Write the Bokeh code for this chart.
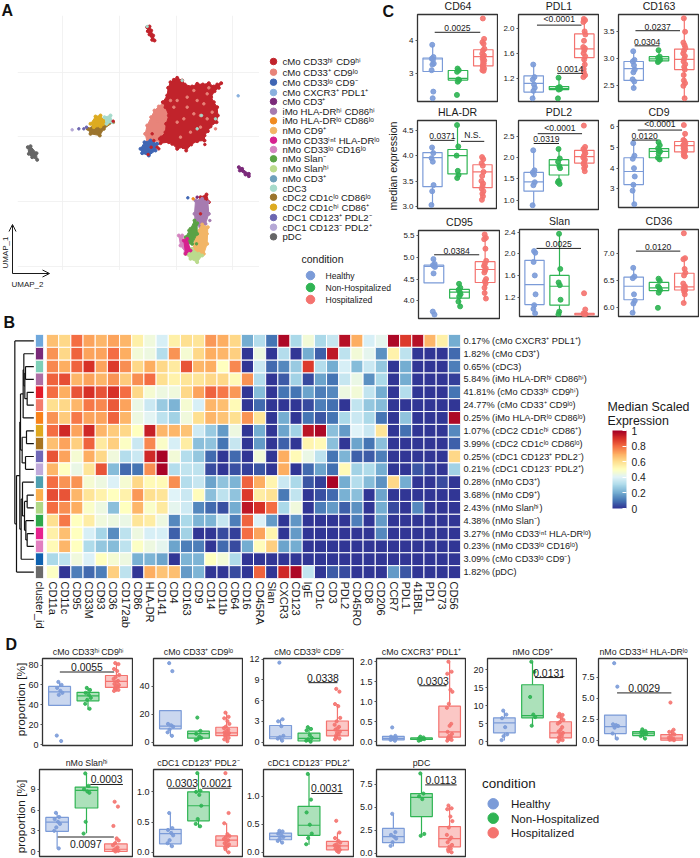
from math import pi
from bokeh.embed import file_html
from bokeh.resources import INLINE
from bokeh.plotting import figure
from bokeh.models import (FactorRange, Range1d, LinearColorMapper, ColorBar, FixedTicker,
                          NumeralTickFormatter, Arrow, OpenHead)
from bokeh.core.properties import value

FONT = "Liberation Sans"
INK = "#1a1a1a"
GROUP_COLORS = ["#7b9bd8", "#2fb453", "#f4736f"]
CONDITIONS = ["Healthy", "Non-Hospitalized", "Hospitalized"]
JIT = [-0.03, 0.05, -0.06, 0.02, 0.07, -0.02, -0.07, 0.04, 0.0, -0.05, 0.06, -0.01, 0.03, -0.04]

# ---------- A: UMAP ----------
CLUSTER_NAMES = ["cMo CD33ʰⁱ CD9ʰⁱ", "cMo CD33⁺ CD9ˡᵒ", "cMo CD33ˡᵒ CD9⁻", "cMo CXCR3⁺ PDL1⁺", "cMo CD3⁺",
                 "iMo HLA-DRʰⁱ CD86ʰⁱ", "iMo HLA-DRˡᵒ CD86ˡᵒ", "nMo CD9⁺", "nMo CD33ⁱⁿᵗ HLA-DRˡᵒ",
                 "nMo CD33ˡᵒ CD16ˡᵒ", "nMo Slan⁻", "nMo Slanʰⁱ", "nMo CD3⁺", "cDC3", "cDC2 CD1cˡᵒ CD86ˡᵒ",
                 "cDC2 CD1cʰⁱ CD86⁺", "cDC1 CD123⁺ PDL2⁻", "cDC1 CD123⁻ PDL2⁺", "pDC"]
CLUSTER_COLORS = ["#c1232b", "#e8847a", "#3f66b4", "#88b0de", "#7b2a7a", "#a67bb0", "#f08a20", "#f2b566",
                  "#d7218f", "#d583c0", "#5aa245", "#bbdb8d", "#6ea0bb", "#a6dacb", "#9b742d", "#ddab20",
                  "#6c66b0", "#b5a8d6", "#666666"]
LEGEND_Y = [61, 71.7, 81.7, 92, 101, 110.7, 120.3, 130, 139.7, 149, 158.3, 168.3, 178.3, 187.7, 196.7, 206.7,
            217, 226.7, 236.3]

UMAP_GRID_X = [186, 358, 527, 695]
UMAP_GRID_Y = [215, 407, 603, 797]
UMAP_ISLANDS = [
    (1, [462, 475, 490, 500, 508, 500, 495, 478, 455, 440, 434, 440, 452], [330, 318, 305, 320, 345, 370, 400, 420, 425, 425, 400, 375, 350]),
    (0, [503, 510, 520, 530, 545, 553, 575, 590, 607, 625, 640, 650, 662, 655, 642, 632, 640, 650, 652, 648, 630, 622, 612, 612, 590, 572, 557, 548, 530, 515, 505, 480, 478, 495, 497, 505, 495, 487, 500],
        [262, 245, 238, 232, 240, 252, 258, 250, 252, 248, 258, 252, 248, 262, 272, 290, 305, 320, 345, 365, 378, 392, 405, 420, 422, 432, 450, 440, 445, 430, 425, 428, 415, 395, 370, 345, 320, 305, 285]),
    (2, [420, 432, 450, 470, 465, 445, 425], [445, 425, 420, 430, 450, 465, 458]),
    (0, [440, 447, 452, 458, 462, 455, 447, 442], [80, 78, 90, 105, 120, 118, 102, 92]),
    (14, [262, 280, 300, 320, 338, 310, 298, 270], [385, 375, 375, 368, 365, 385, 405, 400]),
    (15, [270, 285, 300, 310, 320, 300, 280], [370, 348, 345, 360, 370, 378, 380]),
    (13, [312, 330, 335, 318], [350, 345, 365, 370]),
    (18, [82, 90, 108, 110, 95, 85], [440, 437, 458, 478, 470, 460]),
    (4, [715, 725, 745, 745, 735, 718], [500, 505, 520, 527, 522, 510]),
    (0, [600, 618, 625, 605], [590, 582, 605, 605]),
    (5, [585, 605, 622, 625, 615, 600, 585, 582], [600, 595, 605, 640, 670, 680, 672, 640]),
    (7, [605, 622, 620, 610, 590, 578, 585], [672, 680, 730, 760, 765, 745, 700]),
    (10, [582, 590, 590, 575, 560, 555, 570], [660, 668, 700, 730, 730, 710, 685]),
    (11, [560, 575, 595, 605, 590, 570, 555], [735, 745, 760, 765, 785, 775, 760]),
    (9, [535, 545, 550, 555, 540], [705, 705, 730, 755, 735]),
    (8, [550, 560, 570, 555], [720, 715, 750, 760]),
]
UMAP_SPECKS_X = [530, 560, 580, 600, 600, 620, 590, 530, 560, 620, 550, 520, 610, 645, 603, 545, 590,
                 613, 475, 443, 482, 460, 215, 235, 250, 258, 338, 578, 562, 590, 713, 440, 645, 470,
                 570, 540, 510, 635, 625, 580, 470, 452, 455, 600, 628, 620, 565, 588]
UMAP_SPECKS_Y = [300, 320, 340, 345, 380, 355, 300, 365, 290, 280, 355, 320, 310, 355, 345, 240, 385,
                 432, 445, 462, 410, 420, 388, 385, 385, 380, 362, 595, 592, 590, 286, 78, 385, 440,
                 395, 410, 300, 335, 262, 270, 362, 440, 400, 640, 660, 700, 690, 730]
UMAP_SPECKS_C = [1, 1, 1, 1, 1, 1, 1, 1, 1, 1, 1, 1, 1, 13, 13, 13, 13,
                 0, 0, 0, 0, 0, 17, 16, 16, 16, 0, 6, 2, 4, 3, 13, 1, 0,
                 1, 1, 1, 1, 1, 1, 1, 0, 0, 0, 5, 7, 10, 10]

# ---------- B: heatmap ----------
MARKERS = ["CD11a", "CD11c", "CD95", "CD33M", "CD93", "CD36", "CD172ab", "CD86", "HLA-DR", "CD141", "CD4", "CD163",
           "CD9", "CD14", "CD11b", "CD64", "CD16", "CD45RA", "Slan", "CXCR3", "CD123", "IgE", "CD1c", "CD3", "PDL2",
           "CD45RO", "CD8", "CD206", "CCR7", "PDL1", "41BBL", "PD1", "CD73", "CD56"]
ROW_LABELS = ["0.17% (cMo CXCR3⁺ PDL1⁺)", "1.82% (cMo CD3⁺)", "0.65% (cDC3)", "5.84% (iMo HLA-DRʰⁱ CD86ʰⁱ)",
              "41.81% (cMo CD33ʰⁱ CD9ʰⁱ)", "24.77% (cMo CD33⁺ CD9ˡᵒ)", "0.25% (iMo HLA-DRˡᵒ CD86ˡᵒ)",
              "1.07% (cDC2 CD1cʰⁱ CD86⁺)", "3.99% (cDC2 CD1cˡᵒ CD86ˡᵒ)", "0.25% (cDC1 CD123⁺ PDL2⁻)",
              "0.21% (cDC1 CD123⁻ PDL2⁺)", "0.28% (nMo CD3⁺)", "3.68% (nMo CD9⁺)", "2.43% (nMo Slanʰⁱ)",
              "4.38% (nMo Slan⁻)", "3.27% (nMo CD33ⁱⁿᵗ HLA-DRˡᵒ)", "0.23% (nMo CD33ˡᵒ CD16ˡᵒ)",
              "3.09% (cMo CD33ˡᵒ CD9⁻)", "1.82% (pDC)"]
ROW_COLORS = ["#6fa8dc", "#7b2a7a", "#7fd0b8", "#ae6ea4", "#e31b2a", "#f47c6c", "#f8821a", "#e0a820", "#a87420",
              "#7068b8", "#c0aadb", "#4f9fb0", "#fbb04f", "#b0d885", "#2fa84a", "#e7248f", "#e27fc0", "#0f62b0",
              "#6a6a6a"]
HEAT = [
    [.67, .62, .8, .72, .68, .72, .68, .55, .45, .38, .55, .6, .58, .73, .7, .62, .2, .32, .1, .98, .3, .46, .3, .35, .97, .7, .38, .42, .98, .88, .97, .68, .55, .2],
    [.74, .62, .82, .72, .72, .8, .7, .46, .44, .32, .74, .47, .62, .7, .68, .63, 0, .44, 0, .32, 0, .2, .07, .95, .33, .46, .42, .15, .54, .33, 0, 0, 0, .08],
    [.76, .7, .82, .9, .72, .88, .75, .62, .7, .62, .57, .84, .68, .7, .5, .76, 0, .36, .08, .13, .27, .88, .32, .2, .38, .23, .36, .26, 0, .2, 0, 0, 0, .12],
    [.82, .85, .68, .72, .68, .74, .64, .75, .8, .6, .54, .58, .58, .62, .62, .52, .74, .32, 0, .06, .28, .03, .18, .1, .35, .43, .15, .3, 0, .2, 0, 0, 0, .02],
    [.8, .7, .84, .9, .84, .9, .8, .62, .47, .44, .45, .62, .72, .82, .78, .73, 0, .23, 0, .1, .1, .18, .12, .13, .44, .46, .34, .2, 0, .32, 0, 0, 0, .1],
    [.6, .62, .68, .78, .76, .83, .72, .43, .36, .27, .22, .47, .38, .68, .67, .52, 0, .08, 0, 0, 0, .03, .12, .09, 0, .34, .26, .23, 0, 0, 0, 0, 0, 0],
    [.74, .64, .78, .72, .72, .82, .68, .44, .41, .33, .28, .45, .6, .68, .66, .6, .74, .58, 0, .2, 0, .1, .05, .1, .3, .36, .3, .1, 0, .25, 0, 0, 0, .98],
    [.8, .92, .72, .92, .68, .64, .62, .5, .93, .68, .68, .66, .37, .27, .17, .44, 0, .2, 0, .18, .28, .96, .98, .24, .17, .4, .36, .58, 0, .09, 0, 0, 0, .13],
    [.67, .72, .63, .82, .57, .63, .49, .36, .76, .48, .38, .56, .24, .25, .1, .35, 0, .17, 0, .07, 0, .53, .52, .24, 0, .18, .1, .24, 0, 0, 0, 0, 0, .07],
    [.84, .72, .47, .7, .62, .45, .32, .36, .92, .99, .46, .32, .26, .08, 0, .08, 0, .46, 0, .7, .52, .43, .33, .1, .22, .07, .06, .12, 0, 0, 0, 0, 0, .62],
    [.68, .5, .43, .58, .84, .23, .08, .1, .75, .99, .32, .34, .33, .03, 0, .04, .02, .05, 0, .7, 0, .08, .18, .09, .52, .28, .31, .2, 0, 0, .05, .02, 0, .28],
    [.8, .74, .74, .47, .44, .39, .47, .62, .52, .52, .75, .32, .35, .18, .25, .22, .82, .7, .53, .36, .3, .05, .02, .99, .2, .32, .23, .15, .62, .2, 0, 0, .03, 0],
    [.85, .84, .68, .58, .54, .5, .54, .73, .6, .58, .4, .36, .51, .24, .33, .25, .88, .56, .59, .11, .34, 0, .04, .08, .21, .24, 0, .18, 0, 0, 0, 0, 0, 0],
    [.8, .75, .7, .48, .44, .24, .5, .68, .48, .57, .42, .37, .13, .08, .04, .2, .95, .9, .8, .3, .45, 0, .12, .17, .07, .15, 0, .2, .03, 0, .13, 0, 0, 0],
    [.6, .78, .5, .56, .45, .44, .43, .58, .56, .44, .13, .3, .22, .22, .35, .12, .82, .39, .17, 0, .16, 0, 0, 0, 0, .12, 0, .17, 0, 0, 0, 0, 0, 0],
    [.55, .67, .5, .38, .29, .14, .33, .44, .38, .38, .07, .28, 0, 0, .03, .02, .8, .72, .53, 0, .17, 0, 0, 0, 0, 0, 0, .13, 0, 0, 0, 0, 0, 0],
    [.52, .68, .5, .31, .26, .23, .33, .49, .44, .42, .18, .12, .12, 0, .08, .03, .2, .51, .63, .18, .2, 0, 0, 0, 0, 0, 0, 0, 0, 0, 0, 0, 0, 0],
    [.3, .33, .45, .39, .5, .47, .44, .21, .22, .18, 0, .22, .22, .5, .46, .31, 0, 0, 0, 0, 0, 0, 0, 0, 0, 0, 0, 0, 0, 0, 0, 0, 0, 0],
    [.49, 0, .12, .08, .12, .63, .33, 0, .7, .66, .67, .17, .22, 0, 0, .03, 0, .82, 0, .92, .98, .34, 0, .06, .03, 0, 0, 0, .17, .05, 0, 0, 0, 0],
]
RDYLBU = ["#313695", "#4575b4", "#74add1", "#abd9e9", "#e0f3f8", "#ffffbf", "#fee090", "#fdae61", "#f46d43",
          "#d73027", "#a50026"]
CBAR_TICKS = [0, 0.2, 0.4, 0.6, 0.8, 1]
# dendrogram merges: (child, child, height); children are leaf rows (0-18) or "m<k>" earlier merges
DENDRO = [(2, 3, 75), (4, 5, 80), ("m0", "m1", 73), (1, "m2", 70), ("m3", 6, 68), (7, 8, 78), (9, 10, 75),
          ("m5", "m6", 65), ("m4", "m7", 60), (12, 13, 80), (15, 16, 80), (14, "m10", 76), ("m9", "m11", 72),
          (11, "m12", 66), ("m13", 17, 62), ("m8", "m14", 58), ("m15", 18, 48), (0, "m16", 43)]
DENDRO_LEAF = 100

# ---------- C: median expression ----------
CD64_BOX = [(3.06, 3.06, 3.44, 3.47, 3.87), (2.74, 2.80, 2.85, 3.09, 3.17), (3.07, 3.23, 3.51, 3.72, 4.05)]
CD64_PTS = [[3.87, 3.5, 3.45, 3.42, 3.3, 3.27, 3.1, 2.45, 2.25], [3.15, 3.1, 3.05, 2.82, 2.8, 2.75, 2.35],
            [4.67, 4.05, 3.95, 3.9, 3.75, 3.7, 3.6, 3.55, 3.5, 3.45, 3.4, 3.35, 3.3, 3.25, 3.2, 3.15, 3.1, 3.08]]
CD64_BR = [(1.08, 2.88, 4.25, "0.0025")]
PDL1_BOX = [(0.88, 0.98, 1.12, 1.24, 1.42), (1.02, 1.02, 1.04, 1.07, 1.21), (1.22, 1.53, 1.67, 1.91, 2.16)]
PDL1_PTS = [[1.42, 1.22, 1.18, 1.1, 1.05, 1.0, 0.88], [1.21, 1.06, 1.05, 1.04, 1.03, 1.02, 0.88],
            [2.15, 2.13, 2.1, 1.95, 1.9, 1.8, 1.7, 1.68, 1.65, 1.6, 1.55, 1.5, 1.42, 1.35, 1.3, 1.25, 1.22]]
PDL1_BR = [(1.13, 2.89, 2.05, "<0.0001"), (1.93, 2.95, 1.28, "0.0014")]
CD163_BOX = [(2.46, 2.60, 2.82, 2.95, 3.14), (2.93, 2.96, 3.0, 3.04, 3.16), (2.27, 2.80, 2.99, 3.18, 3.76)]
CD163_PTS = [[3.14, 2.98, 2.95, 2.88, 2.8, 2.75, 2.62, 2.58, 2.46], [3.16, 3.04, 3.02, 3.0, 2.98, 2.96, 2.94],
             [3.75, 3.5, 3.3, 3.25, 3.2, 3.15, 3.1, 3.05, 3.0, 2.95, 2.9, 2.85, 2.8, 2.7, 2.6, 2.55, 2.5, 2.27]]
CD163_BR = [(1.07, 2.83, 3.52, "0.0237"), (1.04, 2.02, 3.24, "0.0304")]
HLADR_BOX = [(3.02, 3.39, 3.96, 4.06, 4.17), (3.55, 3.64, 4.0, 4.12, 4.59), (3.12, 3.37, 3.68, 3.82, 3.97)]
HLADR_PTS = [[4.16, 4.05, 3.95, 3.88, 3.42, 3.3, 3.03], [4.6, 4.18, 4.0, 3.7, 3.62, 3.56],
             [3.97, 3.93, 3.85, 3.8, 3.68, 3.6, 3.5, 3.45, 3.4, 3.35, 3.3, 3.25, 3.2, 3.13]]
HLADR_BR = [(0.91, 1.88, 4.30, "0.0371"), (2.14, 3.07, 4.28, "N.S.")]
PDL2_BOX = [(0.87, 1.21, 1.43, 1.65, 2.16), (1.38, 1.59, 1.82, 1.95, 2.2), (1.67, 1.87, 2.02, 2.17, 2.26)]
PDL2_PTS = [[2.17, 1.7, 1.65, 1.6, 1.42, 1.35, 0.88], [2.2, 1.98, 1.9, 1.8, 1.75, 1.45, 1.42, 1.38],
            [2.75, 2.25, 2.2, 2.15, 2.1, 2.05, 2.0, 1.95, 1.9, 1.85, 1.8, 1.75, 1.68]]
PDL2_BR = [(1.16, 2.91, 2.56, "<0.0001"), (1.0, 2.0, 2.33, "0.0319")]
CD9_BOX = [(2.27, 3.21, 3.84, 4.5, 5.2), (4.42, 4.5, 4.81, 4.94, 5.25), (4.56, 4.78, 5.08, 5.28, 5.67)]
CD9_PTS = [[5.2, 4.6, 4.45, 4.0, 3.6, 3.2, 2.92, 2.27], [5.25, 5.1, 4.95, 4.85, 4.8, 4.7, 4.5, 4.42],
           [6.07, 5.65, 5.35, 5.3, 5.2, 5.15, 5.1, 5.05, 5.0, 4.95, 4.9, 4.85, 4.8, 4.7, 4.6, 4.56]]
CD9_BR = [(1.16, 2.91, 5.83, "<0.0001"), (0.93, 1.94, 5.35, "0.0120")]
CD95_BOX = [(4.41, 4.41, 4.79, 4.82, 4.96), (3.87, 4.06, 4.2, 4.26, 4.39), (4.03, 4.42, 4.72, 4.9, 5.53)]
CD95_PTS = [[4.96, 4.85, 4.82, 4.8, 4.78, 4.63, 3.75, 3.68], [4.39, 4.3, 4.25, 4.2, 4.15, 4.1, 3.98, 3.87],
            [5.53, 5.45, 5.42, 5.2, 4.92, 4.85, 4.8, 4.75, 4.7, 4.65, 4.5, 4.45, 4.4, 4.3, 4.18, 4.05]]
CD95_BR = [(1.01, 2.77, 5.06, "0.0384")]
SLAN_BOX = [(0.91, 1.06, 1.43, 1.88, 2.06), (0.87, 1.05, 1.4, 1.6, 2.37), (0.87, 0.87, 0.89, 0.9, 0.9)]
SLAN_PTS = [[2.05, 2.02, 1.85, 1.6, 1.25, 1.05, 0.98, 0.9], [2.37, 1.72, 1.47, 1.42, 1.15, 0.93, 0.88],
            [1.27, 0.97, 0.9, 0.89, 0.88, 0.87]]
SLAN_BR = [(1.08, 2.86, 2.1, "0.0025")]
CD36_BOX = [(5.91, 6.15, 6.4, 6.57, 6.75), (6.28, 6.32, 6.37, 6.47, 6.55), (6.09, 6.33, 6.39, 6.64, 6.93)]
CD36_PTS = [[6.74, 6.58, 6.55, 6.25, 6.13, 6.08, 5.91], [6.54, 6.5, 6.4, 6.37, 6.33, 6.28, 6.0],
            [7.38, 6.92, 6.9, 6.72, 6.65, 6.6, 6.45, 6.4, 6.38, 6.35, 6.33, 6.3, 6.25, 6.09]]
CD36_BR = [(1.09, 2.84, 7.05, "0.0120")]

# ---------- D: proportion ----------
D1_BOX = [(39.5, 39.5, 53, 58.5, 63), (35, 44, 49, 52.5, 56.5), (53, 57.5, 63.5, 69.5, 82)]
D1_PTS = [[63, 60, 57, 54, 52, 50, 9, 3.5], [57, 55, 52, 50, 47, 45, 41, 36],
          [82, 81, 76, 74, 70, 68, 66, 64, 63, 61, 60, 59, 58, 57, 56, 55, 54]]
D1_BR = [(1.01, 2.92, 73, "0.0055")]
D2_BOX = [(4.3, 9.5, 11.4, 22.5, 22.5), (1.5, 2.8, 6, 7.8, 8.3), (0.3, 4.7, 6.6, 10.6, 21.3)]
D2_PTS = [[56.3, 50.6, 13, 12, 11, 9, 7, 4.5], [17.5, 8, 6, 4, 3, 2, 1.5],
          [21, 18, 17, 15, 13, 11, 10, 9, 8, 7, 6.5, 6, 5.5, 5, 4, 3, 2, 0.7]]
D2_BR = []
D3_BOX = [(0.15, 0.48, 0.77, 2.4, 3.3), (0.05, 0.15, 0.53, 1.3, 2.15), (0.4, 0.9, 1.7, 3.05, 5.5)]
D3_PTS = [[11.5, 3.3, 3.0, 2.3, 0.9, 0.7, 0.5, 0.2], [2.15, 1.9, 1.7, 1.0, 0.6, 0.4, 0.2, 0.05],
          [7.7, 7.3, 5.5, 5.2, 3.5, 3.0, 2.5, 2.2, 2, 1.8, 1.5, 1.3, 1.1, 0.9, 0.7, 0.5, 0.4]]
D3_BR = [(1.98, 3.0, 8.6, "0.0338")]
D4_BOX = [(0.05, 0.05, 0.09, 0.14, 0.14), (0.03, 0.06, 0.07, 0.10, 0.12), (0.03, 0.12, 0.25, 0.89, 1.98)]
D4_PTS = [[.36, .15, .13, .1, .09, .07, .05, .03], [.13, .11, .09, .08, .07, .05, .03],
          [2.0, 1.75, 1.7, 1.3, 1.25, .95, .85, .45, .4, .25, .2, .15, .12, .1, .08, .05, .03]]
D4_BR = [(1.92, 2.89, 1.4, "0.0303")]
D5_BOX = [(0.3, 2.4, 5.2, 6.6, 8.6), (4.4, 6.6, 7.2, 15.8, 22.2), (0, 1, 2.4, 5.5, 7.7)]
D5_PTS = [[8.6, 7.5, 6.5, 4.0, 2.0, 1.5, .4], [22.2, 19.4, 12.4, 7.5, 6.8, 4.4],
          [7.7, 7.4, 7, 6.5, 6, 5.4, 5, 4, 3.3, 2.8, 2.4, 2, 1.6, 1.2, .8, .4, 0]]
D5_BR = [(2.09, 3.09, 17.8, "0.0131")]
D6_BOX = [(0.1, 0.8, 1.62, 3.0, 3.0), (0.15, 0.55, 0.83, 1.03, 1.3), (0, 0, 0.25, 0.67, 1.25)]
D6_PTS = [[9.2, 6.4, 1.9, 1.8, 1.7, 1.5, .8, .2], [1.3, 1.1, 1, .9, .8, .7, .5, .2],
          [4.5, 1.25, 1, .9, .7, .5, .3, .2, .1, .05, 0]]
D6_BR = [(1.06, 2.99, 5.65, "0.0029")]
D7_BOX = [(0.43, 2.92, 4.26, 4.93, 5.6), (2.63, 6.3, 8.85, 9.33, 11.3), (0, 0, 0.33, 1.1, 1.9)]
D7_PTS = [[5.6, 5, 4.7, 4.3, 4, 3.5, 3, .45], [11.3, 9.5, 9, 8.7, 8.5, 4.3, 2.6],
          [7.2, 6.5, 3.7, 1.9, 1.6, 1.2, .9, .6, .4, .2, .1, 0]]
D7_BR = [(2.13, 3.24, 9.7, "0.0003"), (1.02, 2.93, 2.1, "0.0097")]
D8_BOX = [(0.09, 0.14, 0.31, 0.38, 0.65), (0.41, 0.52, 0.77, 1.0, 1.31), (0, 0.1, 0.2, 0.27, 0.48)]
D8_PTS = [[.65, .4, .37, .32, .28, .2, .15, .1], [1.31, 1.02, 1.0, .95, .77, .55, .47, .43],
          [1.31, .65, .48, .3, .27, .25, .22, .2, .18, .15, .13, .12, .1, .08, .05, 0]]
D8_BR = [(0.92, 1.92, 1.06, "0.0303"), (2.13, 3.14, 1.06, "0.0021")]
D9_BOX = [(0.17, 0.22, 0.28, 0.34, 0.38), (0.13, 0.3, 0.48, 0.82, 1.4), (0, 0.04, 0.11, 0.19, 0.35)]
D9_PTS = [[.38, .37, .33, .3, .27, .24, .2, .17], [1.4, .94, .71, .49, .33, .25, .14],
          [.56, .35, .25, .2, .17, .14, .12, .1, .08, .06, .04, .02, 0]]
D9_BR = [(2.08, 3.18, 1.05, "0.0031")]
D10_BOX = [(0.72, 1.15, 1.8, 2.7, 4.2), (1.9, 4, 6.1, 6.5, 8.7), (0.1, 0.7, 1.6, 2.9, 5.2)]
D10_PTS = [[4.3, 2.3, 2, 1.8, 1.6, 1.2, .8], [8.7, 6.5, 6.2, 5.9, 2.1, 1.9],
           [5.2, 4.9, 4.8, 4, 3.5, 2.8, 2, 1.7, 1.5, 1.2, .9, .7, .5, .4, .2, .1]]
D10_BR = [(2.13, 3.25, 7.45, "0.0113")]

figs = []


def placed(left, top, right, bottom, ml=0, mt=0, mr=0, mb=0, **kw):
    f = figure(width=right - left + ml + mr, height=bottom - top + mt + mb, toolbar_location=None,
               output_backend="svg", min_border_left=ml, min_border_top=mt, min_border_right=mr,
               min_border_bottom=mb, border_fill_color=None, background_fill_color=None,
               styles={"position": "absolute", "left": f"{left - ml}px", "top": f"{top - mt}px"}, **kw)
    f.outline_line_color = None
    f.grid.visible = False
    figs.append(f)
    return f


def tx(f, x, y, s, size, color=INK, align="left", base="middle", angle=0.0, style="normal", yoff=0):
    f.text([x], [y], text=[s], text_font=value(FONT), text_font_size=value(f"{size}px"), text_color=color,
           text_align=align, text_baseline=base, angle=angle, text_font_style=style, y_offset=yoff)


# ---------- page-wide layer: letters, legends, shared labels ----------
canvas = placed(0, 0, 700, 858, x_range=Range1d(0, 700), y_range=Range1d(858, 0))
canvas.axis.visible = False
for s, x, y in [("A", 1, 10), ("B", 3, 322), ("C", 382, 11), ("D", 5, 644)]:
    tx(canvas, x, y, s, 16, color="#111111", style="bold")

for name, col, y in zip(CLUSTER_NAMES, CLUSTER_COLORS, LEGEND_Y):
    canvas.scatter([273], [y], size=6.5, color=col)
    tx(canvas, 282, y, name, 9.6)
tx(canvas, 301, 258, "condition", 10.5)
for cond, col, y in zip(CONDITIONS, GROUP_COLORS, [275, 287, 299]):
    canvas.scatter([310], [y], size=8.5, color=col)
    tx(canvas, 325, y, cond, 8.6)

canvas.add_layout(Arrow(end=OpenHead(size=7, line_width=1, line_color=INK), x_start=12, y_start=273, x_end=12, y_end=224,
                        line_width=1, line_color=INK))
canvas.add_layout(Arrow(end=OpenHead(size=7, line_width=1, line_color=INK), x_start=12, y_start=273, x_end=49, y_end=273,
                        line_width=1, line_color=INK))
tx(canvas, 4.5, 252, "UMAP_1", 8, align="center", angle=pi / 2)
tx(canvas, 27, 284, "UMAP_2", 8, align="center")

tx(canvas, 392.5, 165.5, "median expression", 10.6, align="center", angle=pi / 2)
tx(canvas, 20, 699, "proportion [%]", 11.8, align="center", angle=pi / 2)
tx(canvas, 20, 816, "proportion [%]", 11.8, align="center", angle=pi / 2)

tx(canvas, 481.5, 783, "condition", 13.4)
for cond, col, y in zip(CONDITIONS, GROUP_COLORS, [803.3, 817.7, 832.3]):
    canvas.scatter([492.7], [y], size=10.5, color=col)
    tx(canvas, 510.5, y, cond, 11.6)

tx(canvas, 607, 406.7, "Median Scaled", 12.4)
tx(canvas, 607, 420, "Expression", 12.4)

# a smooth colour scale from the same stops
smooth = []
for i in range(len(RDYLBU) - 1):
    a = RDYLBU[i]
    b = RDYLBU[i + 1]
    ca = [int(a[k:k + 2], 16) for k in (1, 3, 5)]
    cb = [int(b[k:k + 2], 16) for k in (1, 3, 5)]
    for t in range(12):
        smooth.append("#%02x%02x%02x" % tuple(round(p + (q - p) * t / 12) for p, q in zip(ca, cb)))
smooth.append(RDYLBU[-1])
mapper = LinearColorMapper(palette=smooth, low=0, high=1)
cbar = ColorBar(color_mapper=mapper, location=(612, 350), width=14, height=78, ticker=FixedTicker(ticks=CBAR_TICKS),
                major_tick_line_color="white", major_tick_in=4, major_label_text_font=FONT,
                major_label_text_font_size="10.3px", major_label_text_color=INK, label_standoff=5,
                background_fill_color=None, padding=0, bar_line_color=None, border_line_color=None,
                formatter=NumeralTickFormatter(format="0.[0]"))
canvas.add_layout(cbar, "center")

# ---------- A ----------
um = placed(17, 15, 259, 270, x_range=Range1d(51, 777), y_range=Range1d(810, 45))
um.axis.visible = False
um.grid.visible = True
um.xgrid.ticker = FixedTicker(ticks=UMAP_GRID_X)
um.ygrid.ticker = FixedTicker(ticks=UMAP_GRID_Y)
um.grid.grid_line_color = "#efefef"
um.grid.grid_line_width = 0.8
for cl, xs, ys in UMAP_ISLANDS:
    um.patch(xs, ys, fill_color=CLUSTER_COLORS[cl], line_color=CLUSTER_COLORS[cl], line_width=1)
    um.scatter(xs, ys, size=3, color=CLUSTER_COLORS[cl])
um.scatter(UMAP_SPECKS_X, UMAP_SPECKS_Y, size=2.5, color=[CLUSTER_COLORS[c] for c in UMAP_SPECKS_C])

# ---------- B ----------
rows_top_down = list(reversed(ROW_LABELS))
heat = placed(46, 334, 460, 578, mr=240, mb=70, x_range=FactorRange(factors=MARKERS),
              y_range=FactorRange(factors=rows_top_down), y_axis_location="right")
heat.rect(x=[m for _ in ROW_LABELS for m in MARKERS], y=[r for r in ROW_LABELS for _ in MARKERS], width=1, height=1,
          fill_color=[smooth[min(round(v * (len(smooth) - 1)), len(smooth) - 1)] for row in HEAT for v in row],
          line_color="white", line_width=1)
for ax in (heat.xaxis[0], heat.yaxis[0]):
    ax.axis_line_color = None
    ax.major_tick_line_color = None
    ax.major_tick_out = 0
    ax.major_tick_in = 0
    ax.major_label_text_font = FONT
    ax.major_label_text_color = INK
heat.xaxis.major_label_orientation = "vertical"
heat.xaxis.major_label_text_font_size = "11px"
heat.xaxis.major_label_standoff = 3
heat.yaxis.major_label_text_font_size = "9.2px"
heat.yaxis.major_label_standoff = 3

strip = placed(35, 334, 43, 578, ml=4, mr=4, mb=70, x_range=FactorRange(factors=["cluster_id"]),
               y_range=FactorRange(factors=rows_top_down))
strip.rect(x=["cluster_id"] * len(ROW_LABELS), y=ROW_LABELS, width=1, height=1, fill_color=ROW_COLORS,
           line_color="white", line_width=1)
strip.yaxis.visible = False
strip.xaxis.axis_line_color = None
strip.xaxis.major_tick_line_color = None
strip.xaxis.major_tick_out = 0
strip.xaxis.major_tick_in = 0
strip.xaxis.major_label_orientation = "vertical"
strip.xaxis.major_label_text_font = FONT
strip.xaxis.major_label_text_font_size = "11px"
strip.xaxis.major_label_text_color = INK
strip.xaxis.major_label_standoff = 3

den = placed(13, 334, 35, 578, x_range=Range1d(39, 105), y_range=Range1d(18.5, -0.5))
den.axis.visible = False
pos = {}
segs = []
for k, (a, b, h) in enumerate(DENDRO):
    ends = []
    for c in (a, b):
        if isinstance(c, int):
            ends.append((c, DENDRO_LEAF))
        else:
            ends.append(pos[c])
    (ya, xa), (yb, xb) = ends
    segs += [(xa, ya, h, ya), (xb, yb, h, yb), (h, ya, h, yb)]
    pos[f"m{k}"] = ((ya + yb) / 2, h)
den.segment(*zip(*segs), line_color="#111111", line_width=1.2)


# ---------- C / D ----------
def boxpanel(title, rect, ylim, ticks, fmt, box, pts, br, ms, tick_size, title_size, label_size, fill, jit,
             standoff, below=()):
    l, t, r, b = rect
    f = placed(l, t, r, b, ml=28, mt=18, mr=0, mb=min(7, 858 - b), x_range=Range1d(0.4, 3.6), y_range=Range1d(*ylim),
               title=title)
    f.outline_line_color = "#333333"
    f.outline_line_width = 1.3
    f.title.align = "center"
    f.title.text_font = FONT
    f.title.text_font_size = f"{title_size}px"
    f.title.text_font_style = "normal"
    f.title.text_color = INK
    f.title.standoff = standoff
    f.xaxis.visible = False
    y = f.yaxis[0]
    y.ticker = FixedTicker(ticks=ticks)
    y.formatter = NumeralTickFormatter(format=fmt)
    y.axis_line_color = None
    y.minor_tick_line_color = None
    y.major_tick_out = 2
    y.major_tick_in = 0
    y.major_tick_line_color = "#555555"
    y.major_label_standoff = 2
    y.major_label_text_font = FONT
    y.major_label_text_font_size = f"{tick_size}px"
    y.major_label_text_color = INK
    hw = 0.385
    for i, ((wlo, q1, med, q3, whi), vals, col) in enumerate(zip(box, pts, GROUP_COLORS)):
        gx = i + 1
        f.segment([gx, gx], [q3, q1], [gx, gx], [whi, wlo], line_color=col, line_width=1.2)
        f.quad(left=[gx - hw], right=[gx + hw], bottom=[q1], top=[q3], fill_color=col, fill_alpha=fill,
               line_color=col, line_width=1.2)
        f.segment([gx - hw], [med], [gx + hw], [med], line_color=col, line_width=1.2)
        f.scatter([gx + jit * JIT[j % len(JIT)] for j in range(len(vals))], vals, size=ms, color=col, alpha=0.9)
    for k, (x0, x1, yv, lab) in enumerate(br):
        f.segment([x0], [yv], [x1], [yv], line_color="#222222", line_width=1)
        if k in below:
            f.text([(x0 + x1) / 2], [yv], text=[lab], text_font=value(FONT), text_font_size=value(f"{label_size}px"),
                   text_color=INK, text_align="center", text_baseline="top", y_offset=3)
        else:
            f.text([(x0 + x1) / 2], [yv], text=[lab], text_font=value(FONT), text_font_size=value(f"{label_size}px"),
                   text_color=INK, text_align="center", text_baseline="bottom", y_offset=-1)
    return f


C_PANELS = [
    ("CD64", (417, 13, 498, 101), (2.15, 4.79), [3, 4], "0", CD64_BOX, CD64_PTS, CD64_BR),
    ("PDL1", (518, 13, 599, 101), (0.83, 2.22), [1.2, 1.6, 2.0], "0.0", PDL1_BOX, PDL1_PTS, PDL1_BR),
    ("CD163", (618, 13, 699, 101), (2.21, 3.82), [2.5, 3.0, 3.5], "0.0", CD163_BOX, CD163_PTS, CD163_BR),
    ("HLA-DR", (417, 119, 497, 208), (2.96, 4.69), [3.0, 3.5, 4.0, 4.5], "0.0", HLADR_BOX, HLADR_PTS, HLADR_BR),
    ("PDL2", (518, 119, 599, 209), (0.78, 2.87), [1.0, 1.5, 2.0, 2.5], "0.0", PDL2_BOX, PDL2_PTS, PDL2_BR),
    ("CD9", (618, 119, 699, 207), (2.11, 6.29), [3, 4, 5, 6], "0", CD9_BOX, CD9_PTS, CD9_BR),
    ("CD95", (418, 229, 500, 318), (3.59, 5.62), [4.0, 4.5, 5.0, 5.5], "0.0", CD95_BOX, CD95_PTS, CD95_BR),
    ("Slan", (519, 228, 599, 316), (0.84, 2.45), [1.2, 1.6, 2.0, 2.4], "0.0", SLAN_BOX, SLAN_PTS, SLAN_BR),
    ("CD36", (618, 228, 699, 316), (5.84, 7.45), [6.0, 6.5, 7.0], "0.0", CD36_BOX, CD36_PTS, CD36_BR),
]
for title, rect, ylim, ticks, fmt, box, pts, br in C_PANELS:
    boxpanel(title, rect, ylim, ticks, fmt, box, pts, br, 5, 8, 10.5, 8.6, 0, 0.6, 5)

D_PANELS = [
    ("cMo CD33ʰⁱ CD9ʰⁱ", (42, 658, 133, 745), (-1, 86.6), [0, 20, 40, 60, 80], "0", D1_BOX, D1_PTS, D1_BR, ()),
    ("cMo CD33⁺ CD9ˡᵒ", (153, 658, 243, 745), (-2.4, 59.6), [0, 20, 40], "0", D2_BOX, D2_PTS, D2_BR, ()),
    ("cMo CD33ˡᵒ CD9⁻", (263, 658, 354, 745), (-0.5, 12.1), [0, 3, 6, 9, 12], "0", D3_BOX, D3_PTS, D3_BR, ()),
    ("cMo CXCR3⁺ PDL1⁺", (376, 658, 466, 745), (-0.09, 2.08), [0, 0.5, 1.0, 1.5, 2.0], "0.0", D4_BOX, D4_PTS, D4_BR, ()),
    ("nMo CD9⁺", (487, 658, 577, 745), (-1.1, 23.1), [0, 5, 10, 15, 20], "0", D5_BOX, D5_PTS, D5_BR, ()),
    ("nMo CD33ⁱⁿᵗ HLA-DRˡᵒ", (598, 658, 688, 745), (-0.63, 9.76), [0, 2.5, 5.0, 7.5], "0.0", D6_BOX, D6_PTS, D6_BR, ()),
    ("nMo Slanʰⁱ", (39, 769, 133, 856), (-0.72, 11.87), [0, 3, 6, 9], "0", D7_BOX, D7_PTS, D7_BR, (1,)),
    ("cDC1 CD123⁺ PDL2⁻", (153, 769, 243, 856), (-0.07, 1.37), [0, 0.5, 1.0], "0.0", D8_BOX, D8_PTS, D8_BR, ()),
    ("cDC1 CD123⁻ PDL2⁺", (263, 769, 354, 856), (-0.08, 1.48), [0, 0.5, 1.0], "0.0", D9_BOX, D9_PTS, D9_BR, ()),
    ("pDC", (376, 769, 466, 856), (-0.36, 9.13), [0, 2.5, 5.0, 7.5], "0.0", D10_BOX, D10_PTS, D10_BR, ()),
]
for title, rect, ylim, ticks, fmt, box, pts, br, below in D_PANELS:
    boxpanel(title, rect, ylim, ticks, fmt, box, pts, br, 3.2, 9, 8.8, 10.4, 0.4, 1.4, 3, below=below)

open("out.html", "w").write(file_html(figs, INLINE))
